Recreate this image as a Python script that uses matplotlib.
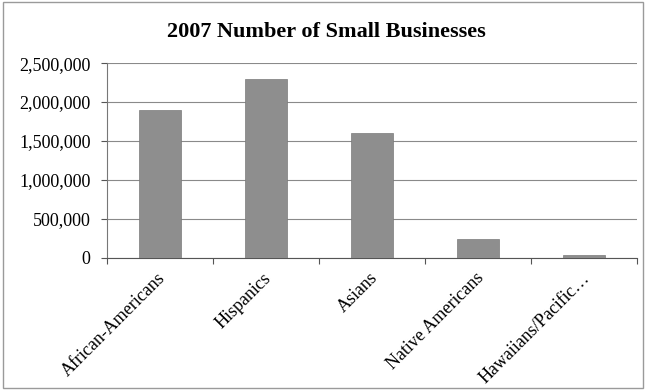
import matplotlib
matplotlib.use("Agg")
import matplotlib.pyplot as plt
from matplotlib.patches import Rectangle
from matplotlib.ticker import FuncFormatter

groups = ["African-Americans", "Hispanics", "Asians", "Native Americans", "Hawaiians/Pacific\u2026"]
businesses = [1900000, 2290000, 1600000, 237000, 38000]

plt.rcParams["font.family"] = ["Liberation Serif", "DejaVu Serif"]

fig = plt.figure(figsize=(6.46, 3.92), dpi=100)
ax = fig.add_axes([0.166, 0.342, 0.820, 0.497])

x = list(range(len(groups)))
ax.bar(x, businesses, width=0.4, color="#8e8e8e", edgecolor="#7a7a7a", linewidth=0.5, zorder=3)

ax.set_xlim(-0.5, len(groups) - 0.5)
ax.set_ylim(0, 2500000)
ax.set_yticks([0, 500000, 1000000, 1500000, 2000000, 2500000])
ax.yaxis.set_major_formatter(FuncFormatter(lambda v, p: f"{int(v):,}"))
ax.grid(axis="y", color="#8a8a8a", linewidth=0.8, zorder=0)

# category boundary ticks on the x axis
ax.set_xticks([i - 0.5 for i in range(len(groups) + 1)])
ax.set_xticklabels([])
ax.tick_params(axis="x", length=4, color="#555555", direction="out")
for i, g in enumerate(groups):
    ax.text(i - 0.03, -150000, g, rotation=45, ha="right", va="top",
            fontsize=13, rotation_mode="anchor")

ax.tick_params(axis="y", length=4, color="#555555", labelsize=13, pad=8)

for side in ["top", "right"]:
    ax.spines[side].set_visible(False)
ax.spines["left"].set_color("#777777")
ax.spines["bottom"].set_color("#555555")

fig.text(0.505, 0.918, "2007 Number of Small Businesses", ha="center", va="center",
         fontsize=16, fontweight="bold")

fig.patches.append(Rectangle((0.004, 0.01), 0.992, 0.985, transform=fig.transFigure,
                             fill=False, edgecolor="#9a9a9a", linewidth=1))

fig.savefig("out.png", dpi=100)
